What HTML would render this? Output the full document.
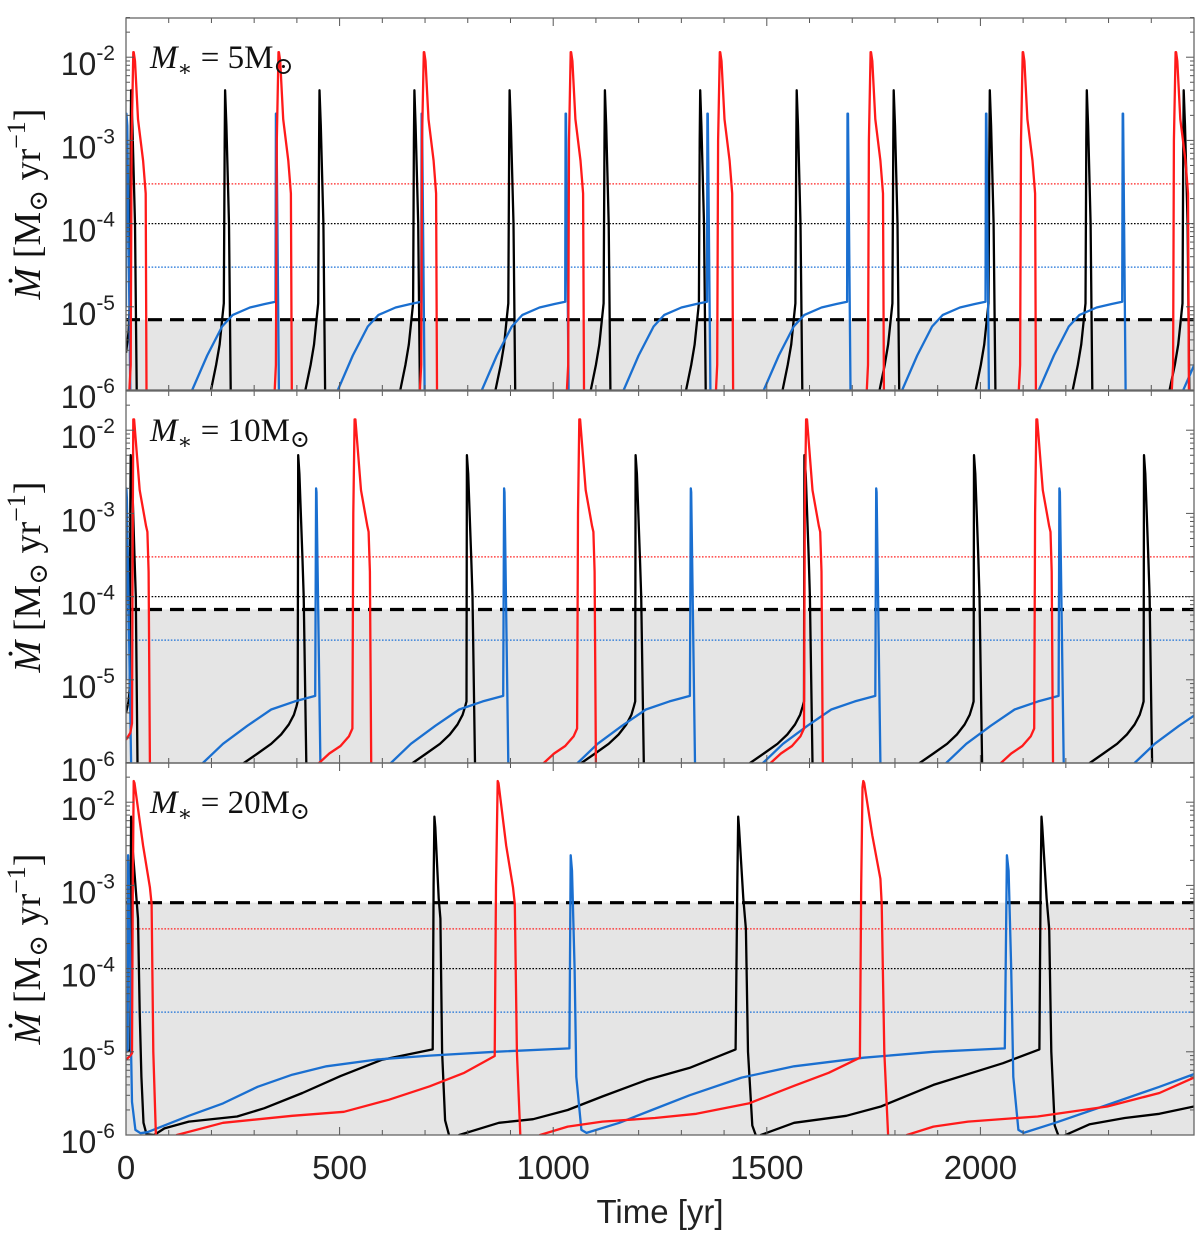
<!DOCTYPE html>
<html><head><meta charset="utf-8"><title>Mass accretion rate bursts</title>
<style>html,body{margin:0;padding:0;background:#fff}svg{display:block}</style></head>
<body>
<svg id="chart" xmlns="http://www.w3.org/2000/svg" width="1200" height="1241" viewBox="0 0 1200 1241"></svg>
<script>
// ---------- data ----------
const xTicks = [0, 500, 1000, 1500, 2000];
const yTickExps = [-2, -3, -4, -5, -6];
const panelMasses = [5, 10, 20];
const dashedThresholds = [7e-6, 7e-5, 6.2e-4];
const dottedLevels = [3e-4, 1e-4, 3e-5];
const dottedColors = ['#ff2020', '#000000', '#1a70d8'];

// Panel 1 (5 Msun)
const p1BlackPrefix = [[0,2.8e-6],[6,5e-6],[9,1.1e-5],[11,1e-3],[12,4e-3],[15,1.5e-3],[21,1e-4],[25,1e-6],[26,5e-7]];
const p1BlackPeaks = [232, 453, 675, 898, 1121, 1344, 1570, 1797, 2022, 2249, 2476];
const p1BlackShape = [[-34,5e-7],[-33,1e-6],[-21,2e-6],[-13,3.5e-6],[-7,7e-6],[-3,1.1e-5],[-1,1e-3],[0,4e-3],[3,1.5e-3],[9,1e-4],[13,1e-6],[14,5e-7]];
const p1RedPrefix = [];
const p1RedPeaks = [18, 358, 698, 1042, 1391, 1744, 2100, 2458];
const p1RedShape = [[-11,5e-7],[-10,1e-6],[-7,2e-6],[-5,1e-3],[-1,1.15e-2],[0,1.15e-2],[3,9e-3],[10,1.8e-3],[22,5.7e-4],[28,2.3e-4],[30,1e-6],[31,5e-7]];
const p1BluePrefix = [[0,1e-5],[1,2.1e-3],[3,1.5e-3],[10,1e-6],[11,5e-7]];
const p1BluePeaks = [350, 691, 1028, 1360, 1688, 2012, 2332, 2670];
const p1BlueShape = [[-196,5e-7],[-195,1e-6],[-160,2.6e-6],[-125,5.8e-6],[-100,8e-6],[-60,9.8e-6],[-25,1.08e-5],[0,1.15e-5],[1,2.1e-3],[2,2.1e-3],[8,1e-6],[9,5e-7]];

// Panel 2 (10 Msun)
const p2BlackPrefix = [[0,4e-6],[6,5.5e-6],[9,8e-6],[10,1e-3],[11,5e-3],[14,3e-3],[20,3e-4],[23,1e-4],[27,1e-6],[28,5e-7]];
const p2BlackPeaks = [403, 798, 1193, 1588, 1985, 2383];
const p2BlackShape = [[-128,5e-7],[-127,1e-6],[-95,1.3e-6],[-63,1.7e-6],[-40,2.2e-6],[-22,2.9e-6],[-10,3.8e-6],[-4,4.8e-6],[-1,5.5e-6],[0,5e-3],[3,3e-3],[10,3e-4],[13,1e-4],[19,1e-6],[20,5e-7]];
const p2RedPrefix = [[0,1.9e-6],[10,2.3e-6],[14,3e-6],[16,1e-3],[17,1.35e-2],[19,1.35e-2],[32,1.9e-3],[47,7e-4],[50,6e-4],[53,2e-4],[56,1e-6],[57,5e-7]];
const p2RedPeaks = [536, 1062, 1593, 2132];
const p2RedShape = [[-85,5e-7],[-84,1e-6],[-60,1.3e-6],[-34,1.6e-6],[-14,2.1e-6],[-6,2.6e-6],[-4,1e-3],[-1,1.35e-2],[1,1.35e-2],[14,1.9e-3],[29,7e-4],[32,6e-4],[35,2e-4],[38,1e-6],[39,5e-7]];
const p2BluePrefix = [[0,1e-5],[1,2e-3],[2,1.5e-3],[12,1e-6],[13,5e-7]];
const p2BluePeaks = [445, 885, 1322, 1756, 2185, 2626];
const p2BlueShape = [[-266,5e-7],[-265,1e-6],[-218,1.7e-6],[-161,2.8e-6],[-105,4.4e-6],[-50,5.5e-6],[-2,6.4e-6],[0,2e-3],[1,1.8e-3],[10,1e-6],[11,5e-7]];

// Panel 3 (20 Msun)
const p3Black = [[0,1e-5],[10,1.05e-5],[11,1e-3],[12,6.7e-3],[15,3e-3],[28,4e-4],[32,3e-5],[36,5e-6],[41,1.4e-6],[48,1.02e-6],[66,1e-6],[90,1.2e-6],[147,1.45e-6],[260,1.67e-6],[324,2.1e-6],[413,3.2e-6],[502,5.1e-6],[598,8e-6],[718,1.07e-5],[720,1e-3],[722,6.7e-3],[724,5e-3],[732,7e-4],[736,4e-4],[740,1e-5],[747,1.5e-6],[756,1e-6],[760,5e-7],[778,5e-7],[780,1e-6],[873,1.4e-6],[953,1.55e-6],[1034,2e-6],[1115,2.9e-6],[1219,4.6e-6],[1319,6.4e-6],[1427,1.07e-5],[1431,1e-3],[1433,6.7e-3],[1435,5e-3],[1445,7e-4],[1451,3e-4],[1456,1e-5],[1466,1.3e-6],[1474,1e-6],[1476,5e-7],[1484,5e-7],[1486,1e-6],[1564,1.4e-6],[1686,1.7e-6],[1767,2.2e-6],[1890,4e-6],[2053,7.3e-6],[2138,1.07e-5],[2141,1e-3],[2143,6.7e-3],[2145,5e-3],[2155,7e-4],[2161,3e-4],[2166,1e-5],[2174,1.3e-6],[2182,1e-6],[2184,5e-7],[2197,5e-7],[2199,1e-6],[2256,1.35e-6],[2338,1.6e-6],[2419,1.8e-6],[2500,2.2e-6]];
const p3Red = [[0,8e-6],[10,9e-6],[14,9.6e-6],[16,1e-3],[18,1.8e-2],[20,1.7e-2],[40,3e-3],[56,9.5e-4],[60,6e-4],[64,1e-5],[70,1e-6],[72,5e-7],[117,5e-7],[119,1e-6],[227,1.4e-6],[389,1.7e-6],[510,1.9e-6],[615,2.65e-6],[711,3.85e-6],[792,5.6e-6],[863,8.9e-6],[866,1e-3],[870,1.8e-2],[872,1.7e-2],[890,3e-3],[906,9.5e-4],[910,6e-4],[915,1e-5],[923,1e-6],[925,5e-7],[967,5e-7],[969,1e-6],[1034,1.26e-6],[1115,1.45e-6],[1238,1.6e-6],[1335,1.8e-6],[1458,2.4e-6],[1564,3.9e-6],[1645,5.6e-6],[1718,8.5e-6],[1721,1e-3],[1724,1.5e-2],[1726,1.8e-2],[1728,1.7e-2],[1747,4e-3],[1766,1.2e-3],[1769,6e-4],[1775,1e-5],[1784,1e-6],[1786,5e-7],[1826,5e-7],[1828,1e-6],[1890,1.26e-6],[1971,1.45e-6],[2134,1.67e-6],[2297,2.2e-6],[2419,3.2e-6],[2500,4.9e-6]];
const p3Blue = [[0,1e-5],[4,1.05e-5],[5,2.3e-3],[7,1e-3],[10,1e-4],[12,1e-5],[14,2.5e-6],[22,1.15e-6],[34,1.05e-6],[50,1.08e-6],[147,1.7e-6],[227,2.4e-6],[308,3.8e-6],[389,5.3e-6],[469,6.7e-6],[590,8.1e-6],[711,9e-6],[863,1e-5],[1038,1.1e-5],[1041,2.3e-3],[1044,1.5e-3],[1050,1e-4],[1054,5e-6],[1066,1.15e-6],[1078,1.06e-6],[1155,1.4e-6],[1231,2e-6],[1319,3e-6],[1441,4.9e-6],[1564,6.7e-6],[1727,8.5e-6],[1890,1e-5],[2057,1.1e-5],[2062,2.3e-3],[2066,1.5e-3],[2072,1e-4],[2077,5e-6],[2089,1.15e-6],[2101,1.06e-6],[2175,1.4e-6],[2297,2.3e-6],[2419,3.8e-6],[2500,5.4e-6]];

// ---------- layout ----------
const NS = 'http://www.w3.org/2000/svg';
const svg = document.getElementById('chart');
const X0 = 126, X1 = 1194, XMAX = 2500;
const PANEL_TOPS = [18, 391, 763];
const PH = 372, DEC = 83.2;
const BLUE = '#1a6fd0', RED = '#ff1a1a';

function xScale(t) { return X0 + (t / XMAX) * (X1 - X0); }
function yScale(p, v) { return PANEL_TOPS[p] + PH - (Math.log10(v) + 6) * DEC; }
function mk(tag, attrs, parent) {
  const e = document.createElementNS(NS, tag);
  for (const k in attrs) e.setAttribute(k, attrs[k]);
  (parent || svg).appendChild(e);
  return e;
}
function buildSeries(prefix, peaks, shape) {
  const out = prefix.slice();
  peaks.forEach(pk => shape.forEach(s => out.push([pk + s[0], s[1]])));
  return out;
}
const panelSeries = [
  { black: buildSeries(p1BlackPrefix, p1BlackPeaks, p1BlackShape), blue: buildSeries(p1BluePrefix, p1BluePeaks, p1BlueShape), red: buildSeries(p1RedPrefix, p1RedPeaks, p1RedShape) },
  { black: buildSeries(p2BlackPrefix, p2BlackPeaks, p2BlackShape), blue: buildSeries(p2BluePrefix, p2BluePeaks, p2BlueShape), red: buildSeries(p2RedPrefix, p2RedPeaks, p2RedShape) },
  { black: p3Black, blue: p3Blue, red: p3Red }
];

const defs = mk('defs', {});
for (let p = 0; p < 3; p++) {
  const top = PANEL_TOPS[p];
  const cp = mk('clipPath', { id: 'clip' + p }, defs);
  mk('rect', { x: X0, y: top, width: X1 - X0, height: PH }, cp);

  const g = mk('g', { 'clip-path': 'url(#clip' + p + ')' });
  
  

  const yd = yScale(p, dashedThresholds[p]);
  const fill = mk('rect', { x: X0, y: yd, width: X1 - X0, height: top + PH - yd, fill: '#e5e5e5' }, g);
  
  

  dottedLevels.forEach((lv, i) => {
    const y = yScale(p, lv);
    const l = mk('line', { x1: X0, x2: X1, y1: y, y2: y, stroke: dottedColors[i], 'stroke-width': 1.3, 'stroke-dasharray': '1.6 1.6' }, g);
    
    
  });

  const dl = mk('line', { x1: X0, x2: X1, y1: yd, y2: yd, stroke: '#000', 'stroke-width': 3.2, 'stroke-dasharray': '14 8' }, g);
  
  

  [['black', '#000'], ['blue', BLUE], ['red', RED]].forEach(([k, col]) => {
    const pts = panelSeries[p][k].map(d => xScale(d[0]).toFixed(1) + ',' + yScale(p, d[1]).toFixed(1)).join(' ');
    const pl = mk('polyline', { points: pts, fill: 'none', stroke: col, 'stroke-width': 2.3, 'stroke-linejoin': 'round' }, g);
    
    
  });

  // ticks
  const tg = mk('g', { stroke: '#555', 'stroke-width': 1 });
  for (let t = 0; t <= XMAX; t += 100) {
    const x = xScale(t), len = (t % 500 === 0) ? 8 : 5;
    mk('line', { x1: x, x2: x, y1: top + PH, y2: top + PH - len }, tg);
    mk('line', { x1: x, x2: x, y1: top, y2: top + len }, tg);
  }
  for (let e = -6; e <= -2; e++) {
    for (let m = 1; m <= 9; m++) {
      const v = m * Math.pow(10, e);
      const y = yScale(p, v);
      if (y < top - 0.5) continue;
      const len = m === 1 ? 8 : 4;
      mk('line', { x1: X0, x2: X0 + len, y1: y, y2: y }, tg);
      mk('line', { x1: X1, x2: X1 - len, y1: y, y2: y }, tg);
    }
  }
  const box = mk('rect', { x: X0, y: top, width: X1 - X0, height: PH, fill: 'none', stroke: '#666', 'stroke-width': 1.3 });
  
  

  // y tick labels
  yTickExps.forEach(ex => {
    const y = yScale(p, Math.pow(10, ex));
    const tx = mk('text', { x: 115, y: y + 18, 'text-anchor': 'end', 'font-family': '"Liberation Sans", Arial, sans-serif', 'font-size': 32, fill: '#222' });
    
    
    const a = mk('tspan', {}, tx); a.textContent = '10';
    const b = mk('tspan', { dy: -15, 'font-size': 21 }, tx); b.textContent = String(ex);
  });

  // y axis title
  const yt = mk('text', { transform: 'translate(40,' + (top + PH / 2) + ') rotate(-90)', 'text-anchor': 'middle', 'font-family': '"Liberation Serif", "DejaVu Serif", serif', 'font-size': 38, fill: '#111' });
  
  
  const t1 = mk('tspan', { 'font-style': 'italic' }, yt); t1.textContent = 'M\u0307';
  const t2 = mk('tspan', {}, yt); t2.textContent = ' [M';
  const t3 = mk('tspan', { 'font-size': 26, dy: 7 }, yt); t3.textContent = '\u2299';
  const t4 = mk('tspan', { dy: -7 }, yt); t4.textContent = ' yr';
  const t5 = mk('tspan', { 'font-size': 26, dy: -15 }, yt); t5.textContent = '\u22121';
  const t6 = mk('tspan', { dy: 15 }, yt); t6.textContent = ']';

  // panel label
  const pl = mk('text', { x: 150, y: top + 50, 'font-family': '"Liberation Serif", "DejaVu Serif", serif', 'font-size': 33, fill: '#111' });
  
  
  const q1 = mk('tspan', { 'font-style': 'italic' }, pl); q1.textContent = 'M';
  const q2 = mk('tspan', { 'font-size': 22, dy: 8 }, pl); q2.textContent = '\u2217';
  const q3 = mk('tspan', { dy: -8 }, pl); q3.textContent = ' = ' + panelMasses[p] + 'M';
  const q4 = mk('tspan', { 'font-size': 24, dy: 6 }, pl); q4.textContent = '\u2299';
}

// x tick labels
xTicks.forEach(t => {
  const tx = mk('text', { x: xScale(t), y: 1179, 'text-anchor': 'middle', 'font-family': '"Liberation Sans", Arial, sans-serif', 'font-size': 33, fill: '#222' });
  
  
  tx.textContent = String(t);
});
const xt = mk('text', { x: 660, y: 1223, 'text-anchor': 'middle', 'font-family': '"Liberation Sans", Arial, sans-serif', 'font-size': 33, fill: '#222' });


xt.textContent = 'Time [yr]';
</script>
</body></html>
